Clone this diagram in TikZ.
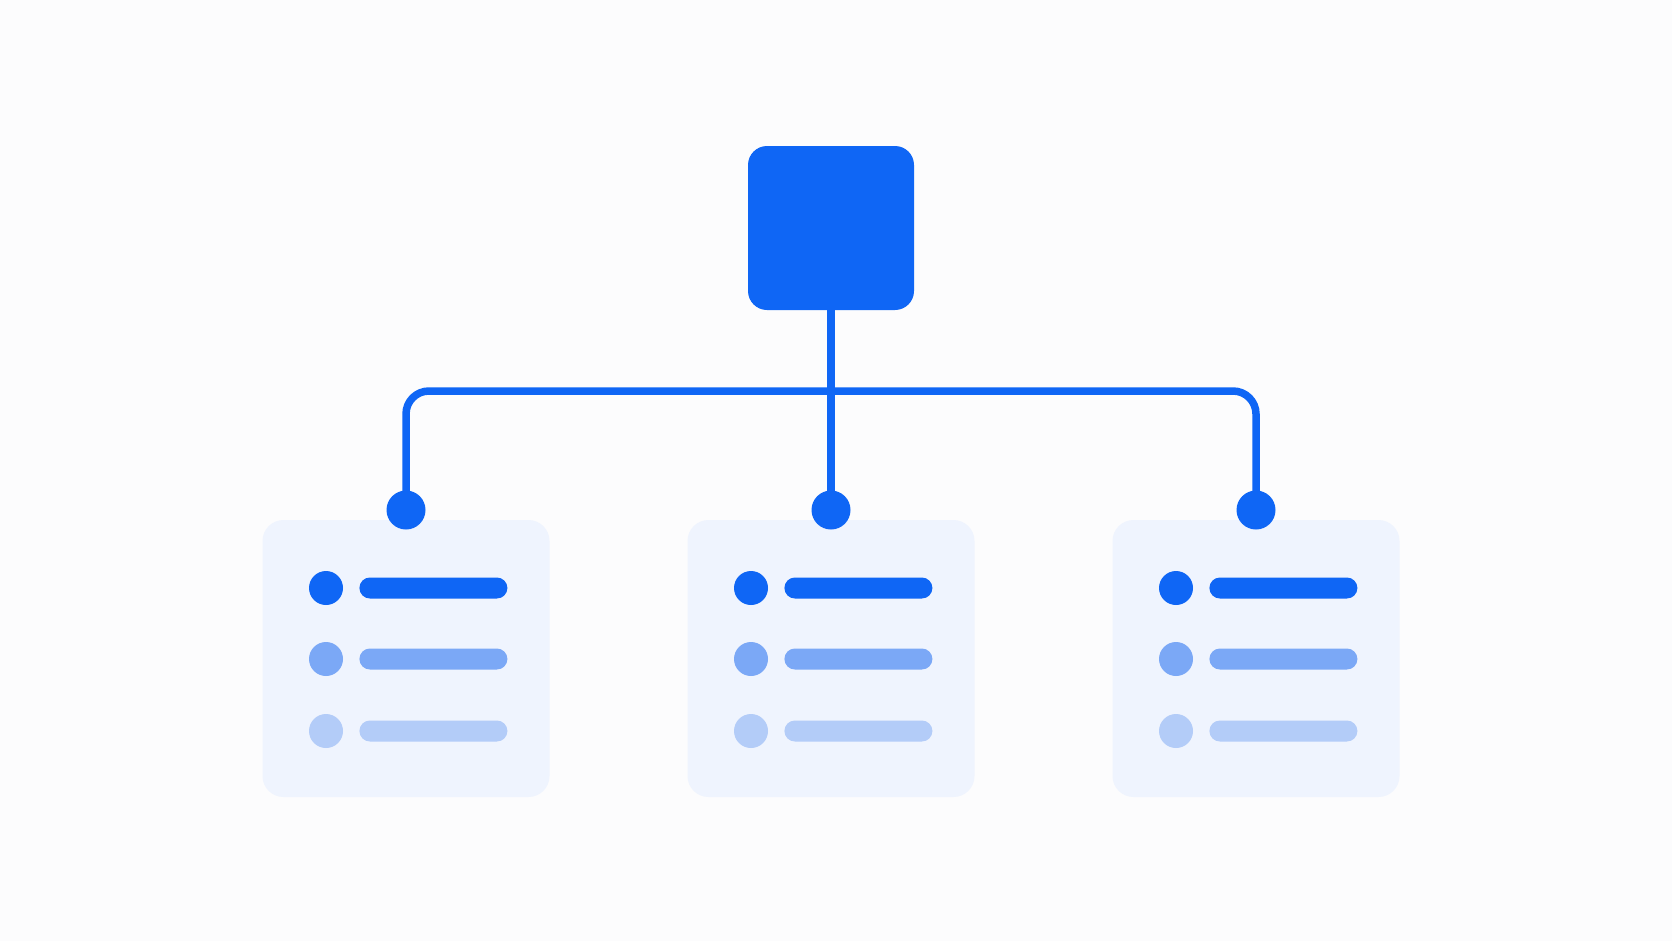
\documentclass[tikz,border=0pt]{standalone}
\usetikzlibrary{positioning}
\definecolor{mainblue}{HTML}{0F66F5}
\definecolor{midblue}{HTML}{7BA8F6}
\definecolor{lightblue}{HTML}{B3CCF8}
\definecolor{cardfill}{HTML}{EFF4FE}
\definecolor{pagefill}{HTML}{FCFCFD}
\begin{document}
\begin{tikzpicture}[
    node distance=0.15cm,
    root/.style={fill=mainblue, rounded corners=0.19cm,
      minimum width=1.66cm, minimum height=1.64cm},
    card/.style={fill=cardfill, rounded corners=0.21cm,
      minimum width=2.87cm, minimum height=2.77cm},
    port/.style={circle, fill=mainblue, inner sep=0pt, minimum size=0.39cm},
    bullet/.style={circle, inner sep=0pt, minimum size=0.34cm},
    bar/.style={rounded corners=0.105cm, inner sep=0pt,
      minimum width=1.48cm, minimum height=0.21cm},
    link/.style={draw=mainblue, line width=0.075cm,
      shorten <=-0.08cm, shorten >=-0.08cm}
  ]
    \fill[pagefill] (0,0) rectangle (16.72,-9.41);
    \node[root] (root) at (8.31,-2.28) {};
    \coordinate (bus) at (8.31,-3.91);
    \foreach \cx [count=\i] in {4.06,8.31,12.56} {
      \node[card] (card\i) at (\cx,-6.585) {};
      \node[port] (port\i) at (\cx,-5.10) {};
      \node[bullet, fill=mainblue] (dotA\i) at (\cx-0.80,-5.88) {};
      \node[bar, fill=mainblue, right=of dotA\i] (barA\i) {};
      \node[bullet, fill=midblue] (dotB\i) at (\cx-0.80,-6.59) {};
      \node[bar, fill=midblue, right=of dotB\i] (barB\i) {};
      \node[bullet, fill=lightblue] (dotC\i) at (\cx-0.80,-7.31) {};
      \node[bar, fill=lightblue, right=of dotC\i] (barC\i) {};
    }
    \draw[link] (root) -- (port2);
    \draw[link, rounded corners=0.23cm] (port1) |- (bus) -| (port3);
  \end{tikzpicture}
\end{document}
